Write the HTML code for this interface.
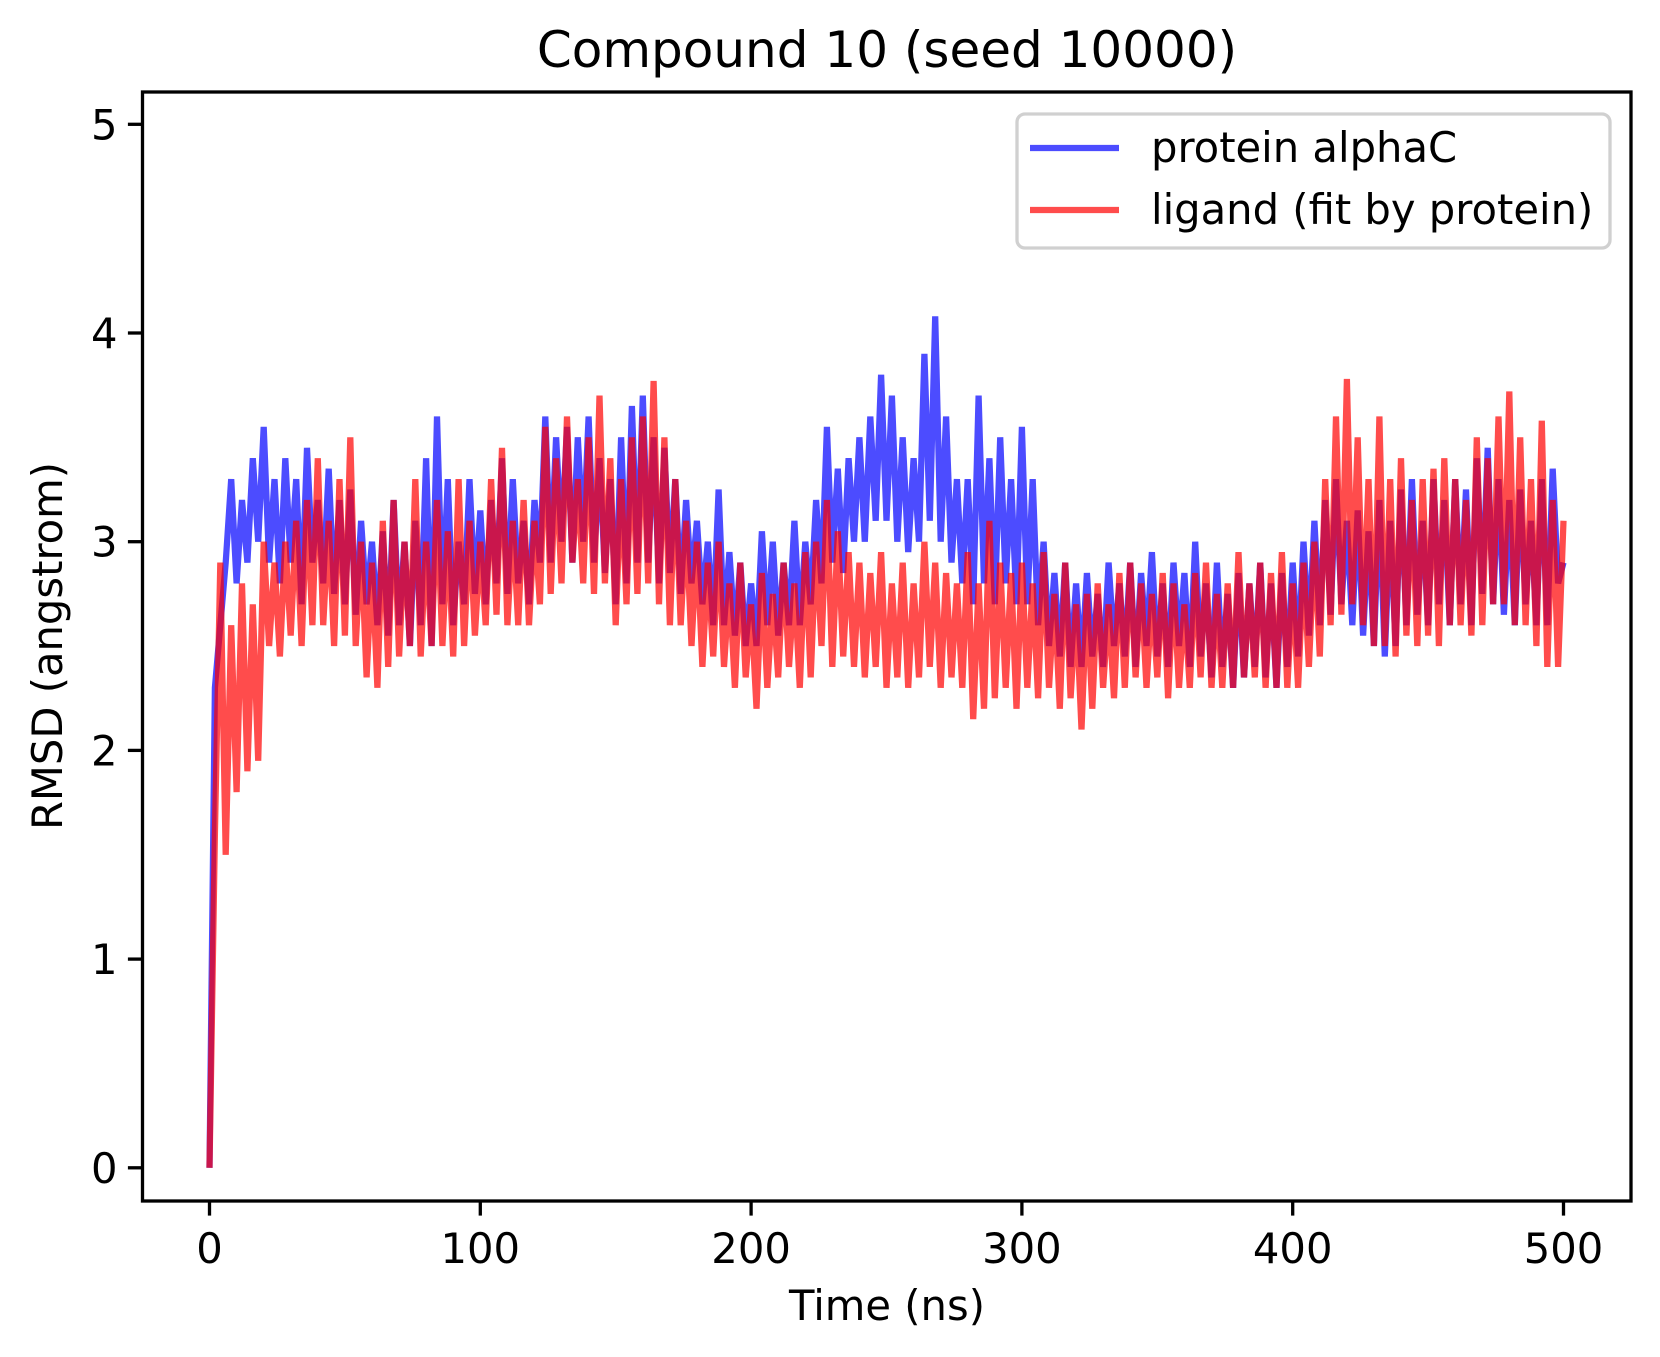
<!DOCTYPE html>
<html><head><meta charset="utf-8"><style>
html,body{margin:0;padding:0;background:#fff}
svg{display:block;font-family:"DejaVu Sans","Liberation Sans",sans-serif}
</style></head><body>
<svg id="chart" width="1660" height="1357" viewBox="0 0 1660 1357" xmlns="http://www.w3.org/2000/svg">
<rect width="1660" height="1357" fill="#fff"/>
<text x="887" y="67" font-size="50" text-anchor="middle">Compound 10 (seed 10000)</text>
<g id="plot"></g>
<g id="axes"></g>
<text x="887" y="1320" font-size="41.7" text-anchor="middle">Time (ns)</text>
<text x="0" y="0" font-size="41.7" text-anchor="middle" transform="translate(62,646) rotate(-90)">RMSD (angstrom)</text>
<g>
<rect x="1017" y="114" width="593" height="134" rx="8" fill="#fff" fill-opacity="0.8" stroke="#d0d0d0" stroke-width="3.3"/>
<g>
<line x1="1030" y1="148" x2="1119" y2="148" stroke="#0000ff" stroke-opacity="0.7" stroke-width="6.25"/>
<text x="1151" y="162" font-size="41.7">protein alphaC</text></g>
<g>
<line x1="1030" y1="210" x2="1119" y2="210" stroke="#ff0000" stroke-opacity="0.7" stroke-width="6.25"/>
<text x="1151" y="224" font-size="41.7">ligand (fit by protein)</text></g>
</g>
</svg>
<script>
const timeStart = 0;
const timeStep = 2;
const xTicks = [0, 100, 200, 300, 400, 500];
const yTicks = [0, 1, 2, 3, 4, 5];
const proteinRmsd = [0,2.3,2.6,2.9,3.3,2.8,3.2,2.9,3.4,3.0,
3.55,2.9,3.3,2.8,3.4,2.9,3.3,2.7,3.45,2.9,
3.2,2.8,3.35,2.75,3.2,2.7,3.25,2.65,3.1,2.7,
3.0,2.6,3.05,2.55,3.2,2.6,3.0,2.5,3.1,2.6,
3.4,2.5,3.6,2.7,3.3,2.6,3.0,2.7,3.3,2.75,
3.15,2.7,3.2,2.8,3.4,2.75,3.3,2.8,3.1,2.7,
3.2,2.9,3.6,2.9,3.5,3.0,3.55,2.9,3.5,3.0,
3.6,2.9,3.4,2.85,3.3,2.7,3.5,2.8,3.65,2.9,
3.7,2.9,3.5,2.8,3.45,2.85,3.3,2.75,3.2,2.8,
3.1,2.7,3.0,2.6,3.25,2.6,2.95,2.55,2.9,2.5,
2.8,2.5,3.05,2.6,3.0,2.55,2.9,2.6,3.1,2.6,
3.0,2.7,3.2,2.8,3.55,2.9,3.35,2.85,3.4,3.0,
3.5,3.0,3.6,3.1,3.8,3.1,3.7,3.0,3.5,2.95,
3.4,3.0,3.9,3.1,4.08,3.0,3.6,2.9,3.3,2.8,
3.3,2.7,3.7,2.8,3.4,2.7,3.5,2.8,3.3,2.7,
3.55,2.7,3.3,2.6,3.0,2.5,2.85,2.45,2.9,2.4,
2.8,2.4,2.85,2.45,2.75,2.4,2.9,2.5,2.8,2.45,
2.9,2.4,2.85,2.5,2.95,2.45,2.8,2.4,2.9,2.5,
2.85,2.4,3.0,2.45,2.8,2.35,2.9,2.4,2.75,2.3,
2.85,2.35,2.8,2.4,2.9,2.35,2.8,2.3,2.85,2.4,
2.9,2.45,3.0,2.55,3.1,2.6,3.2,2.65,3.3,2.7,
3.1,2.6,3.15,2.55,3.05,2.5,3.2,2.45,3.1,2.5,
3.25,2.6,3.3,2.65,3.1,2.6,3.3,2.7,3.2,2.6,
3.3,2.7,3.25,2.6,3.4,2.75,3.45,2.7,3.3,2.65,
3.2,2.6,3.25,2.7,3.1,2.6,3.3,2.6,3.35,2.8,
2.9];
const ligandRmsd = [0,1.6,2.9,1.5,2.6,1.8,2.8,1.9,2.7,1.95,
3.0,2.5,2.9,2.45,3.0,2.55,3.1,2.5,3.2,2.6,
3.4,2.6,3.1,2.5,3.3,2.55,3.5,2.5,3.0,2.35,
2.9,2.3,3.1,2.4,3.2,2.45,3.0,2.5,3.3,2.45,
3.0,2.5,3.2,2.5,3.05,2.45,3.3,2.5,3.1,2.55,
3.0,2.6,3.3,2.65,3.45,2.6,3.1,2.6,3.2,2.6,
3.1,2.7,3.55,2.75,3.4,2.8,3.6,2.9,3.3,2.8,
3.5,2.75,3.7,2.8,3.4,2.6,3.3,2.7,3.5,2.75,
3.6,2.8,3.77,2.7,3.5,2.6,3.3,2.6,3.1,2.5,
3.0,2.4,2.9,2.45,3.0,2.4,2.8,2.3,2.9,2.35,
2.7,2.2,2.85,2.3,2.75,2.35,2.9,2.4,2.8,2.3,
2.95,2.35,3.0,2.5,3.2,2.4,3.05,2.45,2.95,2.4,
2.9,2.35,2.85,2.4,2.95,2.3,2.8,2.35,2.9,2.3,
2.8,2.35,3.0,2.4,2.9,2.3,2.85,2.35,2.8,2.3,
2.95,2.15,2.8,2.2,3.1,2.25,2.9,2.3,2.85,2.2,
2.9,2.3,2.8,2.25,2.95,2.3,2.75,2.2,2.9,2.25,
2.7,2.1,2.75,2.2,2.8,2.3,2.7,2.25,2.85,2.3,
2.9,2.35,2.8,2.3,2.75,2.35,2.85,2.25,2.8,2.3,
2.7,2.3,2.85,2.35,2.9,2.3,2.75,2.3,2.8,2.3,
2.95,2.35,2.8,2.35,2.9,2.3,2.85,2.3,2.95,2.3,
2.8,2.3,2.9,2.4,3.0,2.45,3.3,2.6,3.6,2.65,
3.78,2.7,3.5,2.6,3.3,2.5,3.6,2.5,3.3,2.45,
3.4,2.55,3.2,2.5,3.3,2.55,3.35,2.5,3.4,2.6,
3.3,2.6,3.2,2.55,3.5,2.6,3.4,2.7,3.6,2.7,
3.72,2.6,3.5,2.6,3.3,2.5,3.58,2.4,3.2,2.4,
3.1];

const NS = 'http://www.w3.org/2000/svg';
const L = 142.5, R = 1631, T = 92, B = 1201;
function xs(v){ return 209.5 + (v - 0) * (1563.5 - 209.5) / 500; }
function ys(v){ return 1167.8 - v * (1167.8 - 124.3) / 5; }
const plot = document.getElementById('plot');
const axes = document.getElementById('axes');

function drawSeries(vals, color, name){
  const p = document.createElementNS(NS, 'path');
  let d = '';
  vals.forEach((v, i) => {
    const t = timeStart + i * timeStep;
    d += (i ? 'L' : 'M') + xs(t).toFixed(1) + ',' + ys(v).toFixed(1);
  });
  p.setAttribute('d', d);
  p.setAttribute('fill', 'none');
  p.setAttribute('stroke', color);
  p.setAttribute('stroke-opacity', '0.7');
  p.setAttribute('stroke-width', '6.25');
  p.setAttribute('stroke-linejoin', 'miter');
  
  
  plot.appendChild(p);
}
drawSeries(proteinRmsd, '#0000ff', 'protein-alphac-line');
drawSeries(ligandRmsd, '#ff0000', 'ligand-line');

const frame = document.createElementNS(NS, 'rect');
frame.setAttribute('x', L); frame.setAttribute('y', T);
frame.setAttribute('width', R - L); frame.setAttribute('height', B - T);
frame.setAttribute('fill', 'none'); frame.setAttribute('stroke', '#000');
frame.setAttribute('stroke-width', '3.3');


axes.appendChild(frame);

xTicks.forEach(v => {
  const x = xs(v);
  const ln = document.createElementNS(NS, 'line');
  ln.setAttribute('x1', x); ln.setAttribute('x2', x);
  ln.setAttribute('y1', B); ln.setAttribute('y2', B + 14.6);
  ln.setAttribute('stroke', '#000'); ln.setAttribute('stroke-width', '3.3');
  
  
  axes.appendChild(ln);
  const tx = document.createElementNS(NS, 'text');
  tx.setAttribute('x', x); tx.setAttribute('y', B + 62);
  tx.setAttribute('font-size', '41.7'); tx.setAttribute('text-anchor', 'middle');
  tx.textContent = v;
  
  
  axes.appendChild(tx);
});
yTicks.forEach(v => {
  const y = ys(v);
  const ln = document.createElementNS(NS, 'line');
  ln.setAttribute('x1', L - 14.6); ln.setAttribute('x2', L);
  ln.setAttribute('y1', y); ln.setAttribute('y2', y);
  ln.setAttribute('stroke', '#000'); ln.setAttribute('stroke-width', '3.3');
  
  
  axes.appendChild(ln);
  const tx = document.createElementNS(NS, 'text');
  tx.setAttribute('x', L - 25); tx.setAttribute('y', y + 15);
  tx.setAttribute('font-size', '41.7'); tx.setAttribute('text-anchor', 'end');
  tx.textContent = v;
  
  
  axes.appendChild(tx);
});
</script>
</body></html>
